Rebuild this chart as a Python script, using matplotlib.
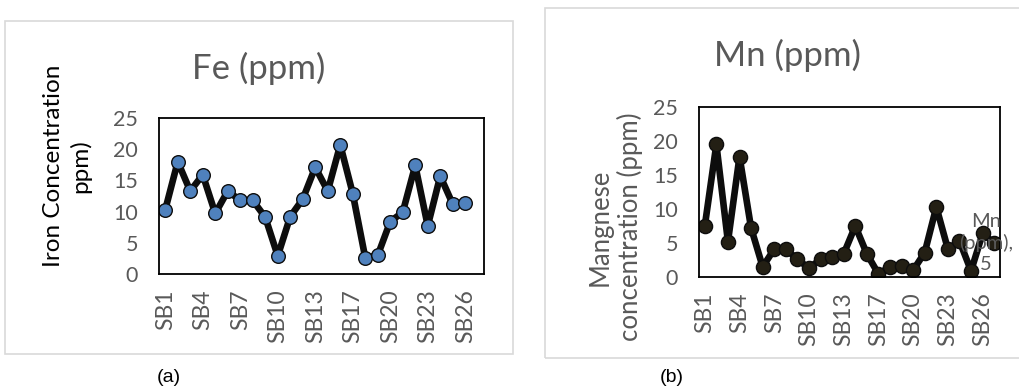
import numpy as np
import matplotlib
matplotlib.use('Agg')
import matplotlib.pyplot as plt
from matplotlib.patches import Rectangle

plt.rcParams['font.family'] = ['Lato', 'DejaVu Sans']

# sampling boreholes (no SB16)
sites = ['SB%d' % i for i in list(range(1, 16)) + list(range(17, 28))]
shown = ['SB1', 'SB4', 'SB7', 'SB10', 'SB13', 'SB17', 'SB20', 'SB23', 'SB26']

fe = [10.3, 18.0, 13.3, 15.9, 9.7, 13.3, 11.8, 11.8, 9.1, 2.9, 9.2, 12.0, 17.1,
      13.3, 20.7, 12.9, 2.6, 3.0, 8.4, 9.9, 17.4, 7.7, 15.7, 11.2, 11.4, np.nan]
mn = [7.5, 19.5, 5.2, 17.7, 7.2, 1.5, 4.1, 4.1, 2.6, 1.3, 2.6, 2.9, 3.4,
      7.5, 3.4, 0.45, 1.5, 1.6, 1.0, 3.6, 10.3, 4.1, 5.3, 0.9, 6.4, 5.0]

grey = '#595959'
W, H = 1020, 389
fig = plt.figure(figsize=(W / 100, H / 100), dpi=100)

# outer chart frames
fig.patches.append(Rectangle((5 / W, 1 - 354 / H), 508 / W, 333 / H, transform=fig.transFigure,
                             fill=False, ec='#d9d9d9', lw=1.2))
fig.patches.append(Rectangle((545 / W, 1 - 358 / H), 500 / W, 350 / H, transform=fig.transFigure,
                             fill=False, ec='#d9d9d9', lw=1.2))

ax1 = fig.add_axes([159 / W, 1 - 274 / H, 325 / W, 156 / H])
ax2 = fig.add_axes([699 / W, 1 - 277 / H, 301 / W, 170 / H])

x = np.arange(len(sites))
ax1.plot(x, fe, color='#0d0d0d', lw=4.8, marker='o', ms=9.8, mfc='#4f81bd', mec='#0d0d0d', mew=1.0)
ax2.plot(x, mn, color='#0d0d0d', lw=4.8, marker='o', ms=10.2, mfc='#231f14', mec='#0d0d0d', mew=1.0)

for ax in (ax1, ax2):
    ax.set_xlim(-0.5, len(sites) - 0.5)
    ax.set_ylim(0, 25)
    ax.set_yticks(range(0, 26, 5))
    ticks = [sites.index(s) for s in shown]
    ax.set_xticks(ticks)
    ax.set_xticklabels(shown, rotation=90)
    ax.tick_params(axis='both', length=0, labelcolor=grey)
    ax.tick_params(axis='y', pad=15, labelsize=15.5)
    ax.tick_params(axis='x', pad=11, labelsize=16.5)
    for sp in ax.spines.values():
        sp.set_linewidth(1.3)
        sp.set_color('black')

fig.text(259 / W, 1 - 68 / H, 'Fe (ppm)', ha='center', va='center', fontsize=25, color=grey)
fig.text(787 / W, 1 - 55 / H, 'Mn (ppm)', ha='center', va='center', fontsize=25, color=grey)
fig.text(67 / W, 1 - 166 / H, 'Iron Concentration\nppm)', rotation=90, ha='center', va='center',
         multialignment='center', fontsize=17.5, color='black', linespacing=1.3)
fig.text(615 / W, 1 - 227 / H, 'Mangnese\nconcentration (ppm)', rotation=90, ha='center', va='center',
         multialignment='center', fontsize=18.5, color=grey, linespacing=1.2)

# data label on the last Mn point, nudged left so it stays inside the figure
ax2.annotate('Mn\n(ppm),\n%g' % mn[-1], xy=(x[-1], mn[-1]), xytext=(-6, 0),
             textcoords='offset points', ha='center', va='center',
             fontsize=14.5, color=grey, annotation_clip=False, zorder=5, linespacing=1.25)

fig.text(169 / W, 1 - 377 / H, '(a)', ha='center', va='center', fontsize=14, family='Liberation Sans')
fig.text(672 / W, 1 - 377 / H, '(b)', ha='center', va='center', fontsize=14, family='Liberation Sans')

fig.savefig('out.png', dpi=100)
